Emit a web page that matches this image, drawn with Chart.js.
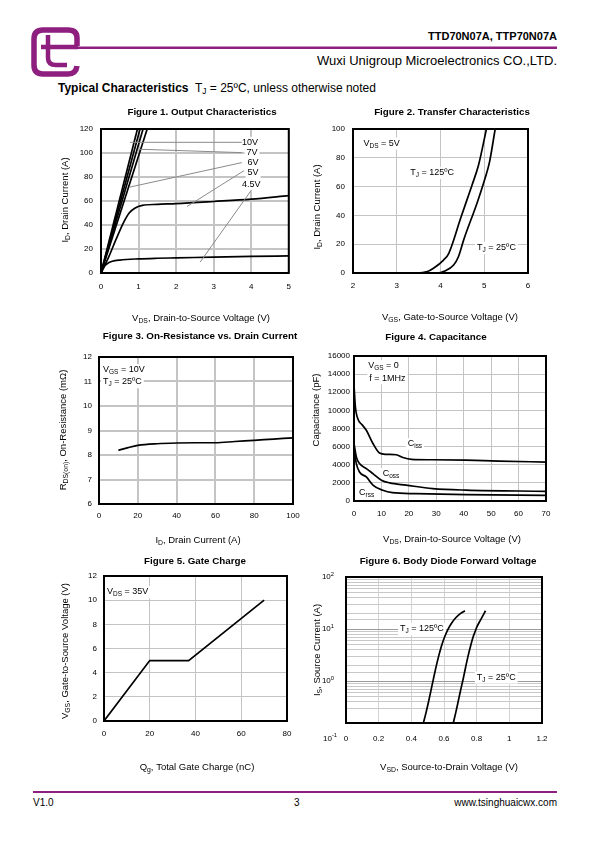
<!DOCTYPE html>
<html lang="en">
<head>
<meta charset="UTF-8">
<title>TTD70N07A Typical Characteristics</title>
<script src="https://cdn.jsdelivr.net/npm/chart.js"></script>
<style>
  body { margin: 0; background: #fff; font-family: "Liberation Sans", Arial, sans-serif; color: #000; }
  .page { position: relative; width: 595px; height: 842px; overflow: hidden; }
  .txt { position: absolute; white-space: nowrap; line-height: 1; }
  canvas { position: absolute; }
  sub { font-size: 70%; vertical-align: -2px; line-height: 0; }
</style>
</head>
<body>
<div class="page">
  <svg width="595" height="100" style="position:absolute;left:0;top:0">
    <path d="M77 46 L77 38 Q77 30 68 30 L43 30 Q34 30 34 39 L34 65 Q34 74 43 74 L68 74 Q76 74 77 66"
          fill="none" stroke="#8e1f7e" stroke-width="5.5"/>
    <path d="M48 35 L48 58 Q48 65 56 65 L67 65" fill="none" stroke="#8e1f7e" stroke-width="4.5"/>
    <path d="M41 47 L78 47" fill="none" stroke="#8e1f7e" stroke-width="4.5"/>
    <rect x="78" y="46.5" width="479" height="2.5" fill="#8e1f7e"/>
  </svg>
  <div class="txt" style="right:38px;top:31px;font-size:11px;font-weight:bold">TTD70N07A, TTP70N07A</div>
  <div class="txt" style="right:38px;top:54px;font-size:13px">Wuxi Unigroup Microelectronics CO.,LTD.</div>
  <div class="txt" style="left:58px;top:82px;font-size:12px"><b>Typical Characteristics</b>&nbsp; T<sub>J</sub> = 25ºC, unless otherwise noted</div>

  <canvas id="fig1" width="260" height="230" style="left:40px;top:100px"></canvas>
  <canvas id="fig2" width="250" height="230" style="left:300px;top:100px"></canvas>
  <canvas id="fig3" width="270" height="225" style="left:40px;top:325px"></canvas>
  <canvas id="fig4" width="260" height="225" style="left:300px;top:325px"></canvas>
  <canvas id="fig5" width="270" height="235" style="left:40px;top:545px"></canvas>
  <canvas id="fig6" width="260" height="235" style="left:300px;top:545px"></canvas>

  <div style="position:absolute;left:33px;top:791px;width:524px;height:2px;background:#8e1f7e"></div>
  <div class="txt" style="left:33px;top:798px;font-size:10px">V1.0</div>
  <div class="txt" style="left:294px;top:798px;font-size:10px">3</div>
  <div class="txt" style="right:38px;top:798px;font-size:10px">www.tsinghuaicwx.com</div>
</div>

<script>
// ---- data ----
// Figure 1: output characteristics, [Vds, Id]
const outVgs10 = [[0, 0], [0.97, 120]];
const outVgs8 = [[0, 0], [1.04, 120]];
const outVgs7 = [[0, 0], [1.12, 120]];
const outVgs6 = [[0, 0], [1.23, 120]];
const outVgs5 = [[0, 0], [0.2, 13], [0.4, 28], [0.6, 42], [0.75, 50], [0.9, 54], [1.1, 56.3], [1.5, 57.2], [2, 57.8], [3, 59.6], [4, 61.6], [5, 64.5]];
const outVgs45 = [[0, 0], [0.1, 6], [0.2, 8.5], [0.3, 9.8], [0.5, 10.8], [1, 11.8], [1.5, 12.3], [2, 12.6], [3, 13.2], [4, 13.8], [5, 14.3]];
const outLabels = ['10V', '7V', '6V', '5V', '4.5V'];
const outLabelPos = [[3.97, 108.6], [4.02, 100.3], [4.05, 92], [4.05, 83.7], [4.0, 73.4]];
const outLeaders = [[0.77, 108.9, 3.75, 108.9], [1.04, 103.1, 3.75, 100.3], [0.755, 71.5, 3.75, 92], [2.29, 55.4, 3.81, 85.3], [2.64, 9.1, 4.01, 69.3]];

// Figure 2: transfer characteristics, [Vgs, Id]
const tfTj125 = [[2, 0], [3.46, 0], [3.7, 1], [3.84, 3.3], [4.07, 9], [4.19, 13.7], [4.46, 38], [4.72, 61], [4.87, 75], [5.05, 100]];
const tfTj25 = [[2, 0], [3.91, 0], [4.1, 1.4], [4.3, 5.6], [4.41, 11.3], [4.53, 23], [4.84, 49], [5.02, 66], [5.12, 77], [5.25, 100]];

// Figure 3: on-resistance vs drain current
const rdsId = [10, 15, 20, 30, 40, 50, 60, 70, 80, 90, 100];
const rdsOn = [8.19, 8.3, 8.39, 8.46, 8.49, 8.5, 8.5, 8.55, 8.6, 8.65, 8.7];

// Figure 4: capacitance, [Vds, pF]
const capCiss = [[0, 12800], [0.5, 10400], [1.5, 9000], [3, 8400], [4.5, 7800], [6.9, 6350], [9.3, 5300], [11.7, 5150], [15.4, 5100], [17.8, 4800], [21, 4600], [28.7, 4550], [40.8, 4500], [52.9, 4400], [70, 4300]];
const capCoss = [[0, 6350], [0.85, 4870], [2, 4130], [4.5, 3580], [7, 3000], [10, 2300], [13, 2000], [19, 1750], [28.7, 1370], [40.8, 1200], [70, 1070]];
const capCrss = [[0, 5800], [0.85, 4130], [2, 3200], [4.5, 2650], [7, 1730], [10.5, 1180], [14, 920], [22.6, 810], [40.8, 700], [70, 630]];

// Figure 5: gate charge
const gateQg = [0, 20, 37, 70];
const gateVgs = [0, 5, 5, 10];

// Figure 6: body diode forward voltage, [Vsd, Is]
const diodeTj125 = [[0.474, 0.158], [0.49, 0.25], [0.505, 0.4], [0.52, 0.66], [0.535, 1.1], [0.55, 1.8], [0.567, 3.0], [0.585, 4.8], [0.603, 7.0], [0.622, 9.6], [0.645, 12.8], [0.672, 16.5], [0.7, 19.8], [0.728, 22.5]];
const diodeTj25 = [[0.657, 0.158], [0.672, 0.25], [0.687, 0.41], [0.702, 0.68], [0.718, 1.13], [0.733, 1.9], [0.748, 3.1], [0.764, 4.9], [0.779, 7.2], [0.79, 8.9], [0.8, 10.8], [0.815, 13.4], [0.834, 17.2], [0.854, 22.5]];
const diodeYTicks = [100, 10, 1];
const diodeYLabels = ['10^{2}', '10^{1}', '10^{0}'];

const FONT = '"Liberation Sans", Arial, sans-serif';

// split "V_{DS}" / "10^{2}" into runs
function runs(str) {
  const out = [];
  const re = /_\{([^}]*)\}|\^\{([^}]*)\}/g;
  let last = 0, m;
  while ((m = re.exec(str))) {
    if (m.index > last) out.push({t: str.slice(last, m.index), k: 0});
    out.push(m[1] !== undefined ? {t: m[1], k: 1} : {t: m[2], k: -1});
    last = re.lastIndex;
  }
  if (last < str.length) out.push({t: str.slice(last), k: 0});
  return out;
}

function drawRich(ctx, str, x, y, size, o) {
  o = o || {};
  const parts = runs(str);
  const b = o.bold ? 'bold ' : '';
  let w = 0;
  parts.forEach(p => {
    p.size = p.k ? size * 0.72 : size;
    ctx.font = b + p.size + 'px ' + FONT;
    p.w = ctx.measureText(p.t).width;
    w += p.w;
  });
  let sx = o.align === 'left' ? x : o.align === 'right' ? x - w : x - w / 2;
  if (o.bg) {
    ctx.fillStyle = '#fff';
    ctx.fillRect(sx - 2, y - size * 0.65, w + 4, size * 1.35);
  }
  ctx.fillStyle = '#000';
  ctx.textAlign = 'left';
  ctx.textBaseline = 'middle';
  parts.forEach(p => {
    ctx.font = b + p.size + 'px ' + FONT;
    const dy = p.k === 1 ? size * 0.3 : p.k === -1 ? -size * 0.35 : 0;
    ctx.fillText(p.t, sx, y + dy);
    sx += p.w;
  });
}

const sheet = {
  id: 'sheet',
  beforeDatasetsDraw(chart, args, o) {
    const ctx = chart.ctx, xs = chart.scales.x, ys = chart.scales.y;
    (o.notes || []).forEach(n => {
      drawRich(ctx, n.text, xs.getPixelForValue(n.x), ys.getPixelForValue(n.y), 9, {align: n.align, bg: true});
    });
  },
  afterDatasetsDraw(chart) {
    const ctx = chart.ctx, a = chart.chartArea;
    ctx.save();
    ctx.strokeStyle = '#000';
    ctx.lineWidth = 2;
    ctx.strokeRect(a.left, a.top, a.right - a.left, a.bottom - a.top);
    ctx.restore();
  },
  afterDraw(chart, args, o) {
    const ctx = chart.ctx;
    ctx.save();
    drawRich(ctx, o.title[0], o.title[1], o.title[2], 9.8, {bold: true});
    drawRich(ctx, o.xTitle[0], o.xTitle[1], o.xTitle[2], 9.5);
    ctx.translate(o.yTitle[1], o.yTitle[2]);
    ctx.rotate(-Math.PI / 2);
    drawRich(ctx, o.yTitle[0], 0, 0, 9.5);
    ctx.restore();
    if (o.logTicks) {
      const ys = chart.scales.y, a = chart.chartArea;
      o.logTicks.values.forEach((v, i) => {
        drawRich(ctx, o.logTicks.labels[i], a.left - 12, ys.getPixelForValue(v), 8, {align: 'right'});
      });
      drawRich(ctx, o.logTicks.corner, a.left - 9, a.bottom + 15.5, 8, {align: 'right'});
    }
  }
};

function pts(arr) { return arr.map(p => ({x: p[0], y: p[1]})); }

function curve(data, extra) {
  return Object.assign({
    data: pts(data), showLine: true, borderColor: '#000', borderWidth: 1.7,
    pointRadius: 0, cubicInterpolationMode: 'monotone', fill: false
  }, extra || {});
}

function fmt(v) { return String(Math.round(v * 100) / 100); }

function makeChart(id, c) {
  const cv = document.getElementById(id);
  const w = cv.width, h = cv.height;
  const grid = {color: c.gridColor || '#bdbdbd', lineWidth: c.gridWidth || 1.2, drawTicks: false};
  const tickFont = {family: FONT, size: 8};
  const x = Object.assign({
    type: 'linear', min: c.x.min, max: c.x.max,
    afterFit: s => { s.height = h - c.area.b; },
    ticks: {stepSize: c.x.step, autoSkip: false, maxRotation: 0, padding: c.x.pad, color: '#000', font: tickFont, callback: fmt},
    grid: Object.assign({}, grid, c.x.grid || {}),
    border: {display: false}
  }, c.x.extra || {});
  const y = Object.assign({
    type: 'linear', min: c.y.min, max: c.y.max,
    afterFit: s => { s.width = c.area.l; },
    ticks: {stepSize: c.y.step, autoSkip: false, padding: c.y.pad, color: '#000', font: tickFont, callback: fmt},
    grid: Object.assign({}, grid, c.y.grid || {}),
    border: {display: false}
  }, c.y.extra || {});
  return new Chart(cv, {
    type: 'scatter',
    data: {datasets: c.datasets},
    options: {
      responsive: false, animation: false, events: [],
      layout: {padding: {left: 0, top: c.area.t, right: w - c.area.r, bottom: 0}},
      plugins: {legend: {display: false}, tooltip: {enabled: false}, sheet: c.sheet},
      scales: {x: x, y: y}
    },
    plugins: [sheet]
  });
}

// Figure 1
const leaderSets = outLeaders.map(l => curve([[l[0], l[1]], [l[2], l[3]]], {borderColor: '#8a8a8a', borderWidth: 1, cubicInterpolationMode: 'default', tension: 0}));
makeChart('fig1', {
  area: {l: 61, t: 29, r: 250, b: 173},
  gridWidth: 2, gridColor: '#c4c4c4',
  x: {min: 0, max: 5, step: 1, pad: 9},
  y: {min: 0, max: 120, step: 20, pad: 8},
  datasets: leaderSets.concat([
    curve(outVgs10, {tension: 0}), curve(outVgs8, {tension: 0}), curve(outVgs7, {tension: 0}), curve(outVgs6, {tension: 0}),
    curve(outVgs5), curve(outVgs45)
  ]),
  sheet: {
    title: ['Figure 1. Output Characteristics', 162, 12],
    xTitle: ['V_{DS}, Drain-to-Source Voltage (V)', 161, 218],
    yTitle: ['I_{D}, Drain Current (A)', 25, 100],
    notes: outLabels.map((t, i) => ({text: t, x: outLabelPos[i][0], y: outLabelPos[i][1]}))
  }
});

// Figure 2
makeChart('fig2', {
  area: {l: 53, t: 29, r: 228, b: 173},
  gridWidth: 1, gridColor: '#c4c4c4',
  x: {min: 2, max: 6, step: 1, pad: 8},
  y: {min: 0, max: 100, step: 20, pad: 8},
  datasets: [curve(tfTj125), curve(tfTj25)],
  sheet: {
    title: ['Figure 2. Transfer Characteristics', 152, 12],
    xTitle: ['V_{GS}, Gate-to-Source Voltage (V)', 150, 217],
    yTitle: ['I_{D}, Drain Current (A)', 17, 107],
    notes: [
      {text: 'V_{DS} = 5V', x: 2.24, y: 90, align: 'left'},
      {text: 'T_{J} = 125ºC', x: 3.81, y: 69.7},
      {text: 'T_{J} = 25ºC', x: 5.28, y: 17.6}
    ]
  }
});

// Figure 3
makeChart('fig3', {
  area: {l: 59, t: 32, r: 253, b: 179},
  gridWidth: 2, gridColor: '#c4c4c4',
  x: {min: 0, max: 100, step: 20, pad: 7},
  y: {min: 6, max: 12, step: 1, pad: 7},
  datasets: [curve(rdsId.map((v, i) => [v, rdsOn[i]]))],
  sheet: {
    title: ['Figure 3. On-Resistance vs. Drain Current', 160, 11],
    xTitle: ['I_{D}, Drain Current (A)', 158, 215],
    yTitle: ['R_{DS(on)}, On-Resistance (mΩ)', 23, 105],
    notes: [
      {text: 'V_{GS} = 10V', x: 2.1, y: 11.47, align: 'left'},
      {text: 'T_{J} = 25ºC', x: 2.1, y: 10.98, align: 'left'}
    ]
  }
});

// Figure 4
makeChart('fig4', {
  area: {l: 54, t: 31, r: 246, b: 176},
  gridWidth: 1, gridColor: '#c4c4c4',
  x: {min: 0, max: 70, step: 10, pad: 8},
  y: {min: 0, max: 16000, step: 2000, pad: 4},
  datasets: [curve(capCiss), curve(capCoss), curve(capCrss)],
  sheet: {
    title: ['Figure 4. Capacitance', 136, 12],
    xTitle: ['V_{DS}, Drain-to-Source Voltage (V)', 152, 214],
    yTitle: ['Capacitance (pF)', 16, 85],
    notes: [
      {text: 'V_{GS} = 0', x: 10.75, y: 14900},
      {text: 'f = 1MHz', x: 12.2, y: 13570},
      {text: 'C_{iss}', x: 22.2, y: 6290},
      {text: 'C_{oss}', x: 13.5, y: 2980},
      {text: 'C_{rss}', x: 4.6, y: 990}
    ]
  }
});

// Figure 5
makeChart('fig5', {
  area: {l: 64, t: 31, r: 247, b: 176},
  gridWidth: 1, gridColor: '#c4c4c4',
  x: {min: 0, max: 80, step: 20, pad: 8},
  y: {min: 0, max: 12, step: 2, pad: 7},
  datasets: [curve(gateQg.map((v, i) => [v, gateVgs[i]]), {cubicInterpolationMode: 'default', tension: 0})],
  sheet: {
    title: ['Figure 5. Gate Charge', 155, 16],
    xTitle: ['Q_{g}, Total Gate Charge (nC)', 157, 222],
    yTitle: ['V_{GS}, Gate-to-Source Voltage (V)', 25, 106],
    notes: [{text: 'V_{DS} = 35V', x: 1.3, y: 10.68, align: 'left'}]
  }
});

// Figure 6
makeChart('fig6', {
  area: {l: 46, t: 32, r: 242, b: 178},
  gridWidth: 1,
  x: {min: 0, max: 1.2, step: 0.2, pad: 11, grid: {color: '#d4d4d4'}},
  y: {min: 0.158, max: 100, extra: {
    type: 'logarithmic',
    ticks: {display: false},
    afterBuildTicks: s => { s.ticks = s.ticks.filter(t => t.value >= 0.158 && t.value <= 100); },
    grid: {drawTicks: false, lineWidth: 1, color: c => (c.tick && [1, 10].includes(c.tick.value)) ? '#9a9a9a' : '#c8c8c8'}
  }},
  datasets: [curve(diodeTj125), curve(diodeTj25)],
  sheet: {
    title: ['Figure 6. Body Diode Forward Voltage', 148, 16],
    xTitle: ['V_{SD}, Source-to-Drain Voltage (V)', 149, 222],
    yTitle: ['I_{S}, Source Current (A)', 17, 105],
    notes: [
      {text: 'T_{J} = 125ºC', x: 0.465, y: 10.2},
      {text: 'T_{J} = 25ºC', x: 0.92, y: 1.19}
    ],
    logTicks: {values: diodeYTicks, labels: diodeYLabels, corner: '10^{-1}'}
  }
});
</script>
</body>
</html>
